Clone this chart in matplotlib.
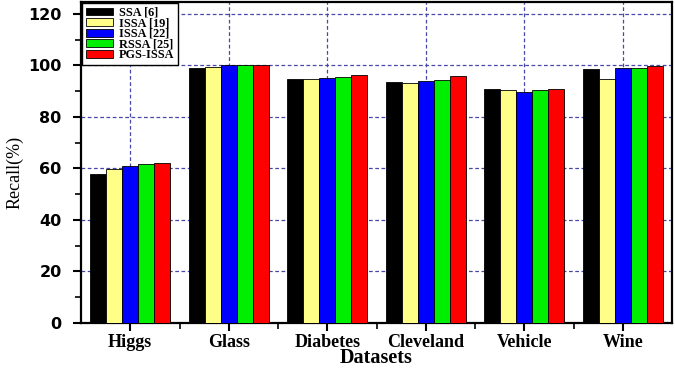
import matplotlib
matplotlib.use("Agg")
import matplotlib.pyplot as plt
import numpy as np
from matplotlib.ticker import MultipleLocator, FixedLocator

datasets = ["Higgs", "Glass", "Diabetes", "Cleveland", "Vehicle", "Wine"]
methods = ["SSA [6]", "ISSA [19]", "ISSA [22]", "RSSA [25]", "PGS-ISSA"]
ssa = [58.0, 99.0, 94.7, 93.6, 90.8, 98.7]
issa19 = [59.8, 99.5, 94.8, 93.0, 90.5, 94.8]
issa22 = [61.0, 100.0, 95.1, 93.8, 89.5, 98.8]
rssa = [61.6, 100.0, 95.4, 94.3, 90.3, 98.8]
pgs_issa = [62.0, 100.0, 96.4, 95.7, 90.9, 99.8]
series = [ssa, issa19, issa22, rssa, pgs_issa]
colors = ["#000000", "#FFFF88", "#0000FF", "#00EE00", "#FF0000"]

fig = plt.figure(figsize=(6.75, 3.68), dpi=100)
ax = fig.add_axes([81/675, 1-323/368, (672-81)/675, (323-2)/368])

x = np.arange(len(datasets))
w = 0.162
for i, (vals, c, lab) in enumerate(zip(series, colors, methods)):
    ax.bar(x + (i - 2) * w, vals, w, color=c, edgecolor="black", linewidth=0.6,
           label=lab, zorder=3)

ax.set_xlim(-0.5, 5.5)
ax.set_ylim(0, 124.6)
ax.set_xticks(x)
ax.set_xticklabels(datasets, fontfamily="Liberation Serif", fontweight="bold", fontsize=13)
ax.xaxis.set_minor_locator(FixedLocator(np.arange(0.5, 5.0, 1.0)))
ax.yaxis.set_major_locator(MultipleLocator(20))
ax.yaxis.set_minor_locator(MultipleLocator(10))
for lbl in ax.get_yticklabels():
    lbl.set_fontweight("bold")
    lbl.set_fontsize(11.5)
    lbl.set_fontfamily("DejaVu Sans")

ax.tick_params(axis="both", which="major", direction="out", length=6, width=1.5, pad=2)
ax.tick_params(axis="both", which="minor", direction="out", length=4, width=1.2)
ax.tick_params(axis="y", which="major", pad=8)

for s in ax.spines.values():
    s.set_linewidth(1.6)

ax.grid(True, which="major", axis="both", color="#4848a8", linestyle=(0, (3, 2)),
        linewidth=0.9, zorder=0)
ax.set_axisbelow(True)

ax.set_xlabel("Datasets", fontfamily="Liberation Serif", fontweight="bold", fontsize=14.5,
              labelpad=-2)
ax.set_ylabel("Recall(%)", fontfamily="Liberation Serif", fontsize=13)
ax.yaxis.set_label_coords(-0.098, 0.47)

leg = ax.legend(loc="upper left", prop={"family": "Liberation Serif", "weight": "bold", "size": 8.8},
                frameon=True, fancybox=False, edgecolor="black", framealpha=1,
                handlelength=2.2, handleheight=0.6, labelspacing=-0.12, borderpad=0.3,
                borderaxespad=0.1, handletextpad=0.5)
leg.get_frame().set_linewidth(1.0)
leg.set_zorder(5)

fig.savefig("out.png", dpi=100)
